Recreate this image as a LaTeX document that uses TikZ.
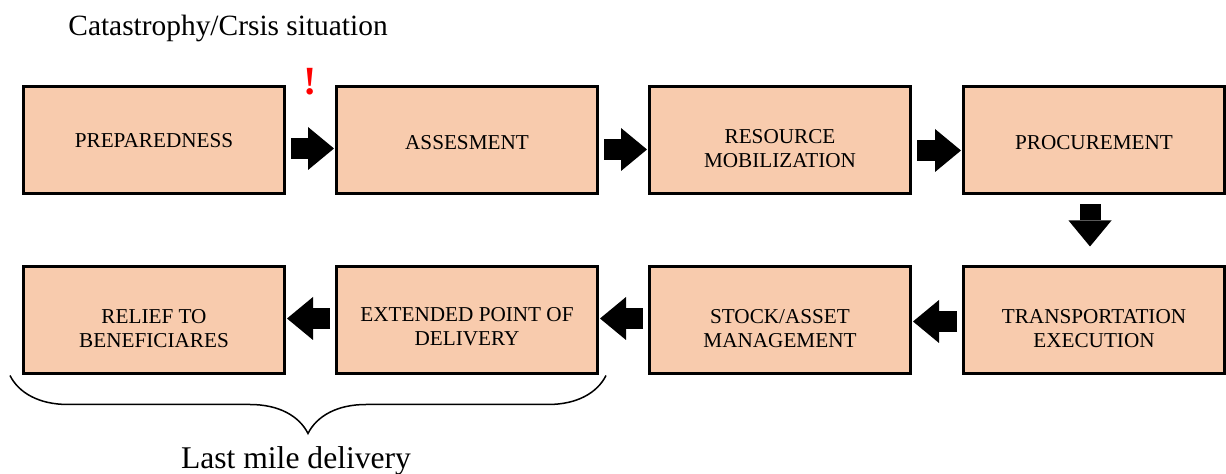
\documentclass[tikz,border=0pt]{standalone}
\usepackage{fontspec}
\setmainfont{Liberation Serif}
\usetikzlibrary{arrows.meta,calc,decorations.pathreplacing}

\definecolor{peach}{HTML}{F8CBAD}
\tikzset{
    stage/.style={draw=black, line width=1.5pt, fill=peach, minimum width=130.5pt, minimum height=53.5pt, inner sep=0pt},
    stagetext/.style={inner sep=0pt, align=center, font=\fontsize{10.6}{12}\selectfont},
    blockarrow/.style={line width=10.5pt, -{Triangle[length=13pt,width=21.5pt,line width=0pt]},
        shorten <=2.5pt, shorten >=0.5pt},
}

\begin{document}
\begin{tikzpicture}[x=0.5pt,y=0.5pt]
        \useasboundingbox (0,0) rectangle (1226,-474);
        \node[anchor=base west, inner sep=0pt, font=\fontsize{14.7}{17}\selectfont] (title) at (68,-36) {Catastrophy/Crsis situation};
        % upper row, left to right
        \foreach \x/\name/\dy/\labeltext in {154/prep/0/PREPAREDNESS, 467/assess/-1/ASSESMENT, 780/mobil/-4/RESOURCE\\MOBILIZATION, 1094/procure/-1/PROCUREMENT}{
            \node[stage] (\name) at (\x,-140.5) {};
            \node[stagetext, yshift=\dy pt] (\name-text) at (\name) {\labeltext};
        }
        % lower row, read right to left
        \foreach \x/\name/\dy/\labeltext in {154/relief/-4/{RELIEF TO\\BENEFICIARES}, 467/extend/-3/{EXTENDED POINT OF\\DELIVERY}, 780/stock/-4/{STOCK/ASSET\\MANAGEMENT}, 1094/transport/-4/{TRANSPORTATION\\EXECUTION}}{
            \node[stage] (\name) at (\x,-320.5) {};
            \node[stagetext, yshift=\dy pt] (\name-text) at (\name) {\labeltext};
        }
        \node[text=red, inner sep=0pt, font=\bfseries\fontsize{20}{24}\selectfont] (alert) at (310,-82) {!};
        % block arrows between the stages
        \foreach \from/\to/\dy in {prep/assess/-8, assess/mobil/-9, mobil/procure/-10}{
            \draw[blockarrow] ($(\from.east)+(0,\dy)$) -- ($(\to.west)+(0,\dy)$);
        }
        \foreach \from/\to/\dy in {transport/stock/-1, stock/extend/2, extend/relief/2}{
            \draw[blockarrow] ($(\from.west)+(0,\dy)$) -- ($(\to.east)+(0,\dy)$);
        }
        \draw[blockarrow, shorten <=4.5pt, shorten >=9.5pt] ($(procure.south)+(-4,0)$) -- ($(transport.north)+(-4,0)$);
        % last mile brace
        \draw[decorate, decoration={brace, mirror, amplitude=29pt}, line width=0.75pt]
            ($(relief.south west)+(-12,0)$) -- ($(extend.south east)+(7,0)$);
        \node[anchor=base, inner sep=0pt, font=\fontsize{15.8}{18}\selectfont] (lastmile) at (296,-469) {Last mile delivery};
\end{tikzpicture}
\end{document}
